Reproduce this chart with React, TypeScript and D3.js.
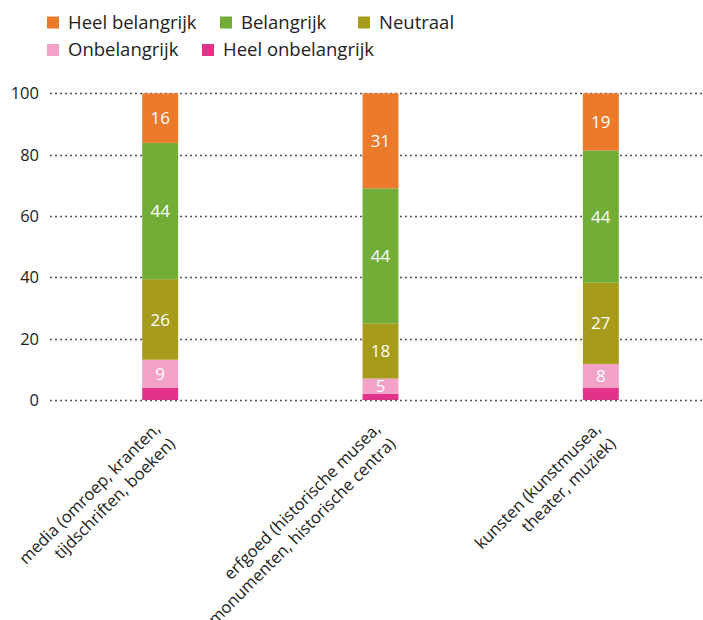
import React from 'react';
import * as d3 from 'd3';

// categories (two lines each, as in the source chart)
const categoryLines = [
  ['media (omroep, kranten,', 'tijdschriften, boeken)'],
  ['erfgoed (historische musea,', 'monumenten, historische centra)'],
  ['kunsten (kunstmusea,', 'theater, muziek)'],
];

// stacking order, bottom to top
const seriesNames = ['Heel onbelangrijk', 'Onbelangrijk', 'Neutraal', 'Belangrijk', 'Heel belangrijk'];
const heelOnbelangrijk = [4, 2, 4];
const onbelangrijk = [9, 5, 8];
const neutraal = [26, 18, 27];
const belangrijk = [44, 44, 44];
const heelBelangrijk = [16, 31, 19];

const seriesColors = ['#e3328a', '#f2a1c7', '#a79b1b', '#71ad37', '#eb7a2b'];
const legendOrder = ['Heel belangrijk', 'Belangrijk', 'Neutraal', 'Onbelangrijk', 'Heel onbelangrijk'];
const yTicks = [0, 20, 40, 60, 80, 100];

const W = 703;
const H = 620;
const FONT = '"Open Sans", "Noto Sans", sans-serif';

const margin = { top: 93.3, left: 50, bottom: 400 };
// legend slots (layout only)
const legendSlots = [
  [47, 0],
  [220, 0],
  [358, 0],
  [47, 1],
  [202, 1],
];

export default function App() {
  const columns = [heelOnbelangrijk, onbelangrijk, neutraal, belangrijk, heelBelangrijk];
  const table = categoryLines.map((_, i) => {
    const row: Record<string, number> = { idx: i };
    seriesNames.forEach((s, k) => (row[s] = columns[k][i]));
    return row;
  });

  // percent stacking: each bar fills 0..100
  const stacked = d3
    .stack<Record<string, number>>()
    .keys(seriesNames)
    .offset(d3.stackOffsetExpand)(table);

  const x = d3
    .scaleBand<number>()
    .domain(d3.range(categoryLines.length))
    .range([margin.left, 711])
    .paddingInner(0.837)
    .paddingOuter(0.837 / 2);

  const y = d3.scaleLinear().domain([0, 100]).range([margin.bottom, margin.top]);
  const color = d3.scaleOrdinal<string, string>().domain(seriesNames).range(seriesColors);

  const grid = (t: number, key: string) => (
    <line
      key={key}
      x1={margin.left}
      x2={W}
      y1={Math.round(y(t)) + 0.5}
      y2={Math.round(y(t)) + 0.5}
      stroke="#555"
      strokeWidth={1.3}
      strokeDasharray="2,3"
    />
  );

  return (
    <div style={{ position: 'absolute', left: 0, top: 0 }}>
      <svg width={W} height={H} style={{ display: 'block', fontFamily: FONT }}>
        <rect width={W} height={H} fill="#fff" />

        {/* legend */}
        {legendOrder.map((name, i) => {
          const [lx, row] = legendSlots[i];
          const ly = 16.5 + row * 27.5;
          return (
            <g key={name}>
              <rect x={lx} y={ly} width={12} height={12} fill={color(name)} />
              <text x={lx + 21} y={ly + 12} fontSize={18.5} fill="#222">
                {name}
              </text>
            </g>
          );
        })}

        {/* grid + y ticks */}
        {yTicks.filter((t) => t !== 0).map((t) => grid(t, 'g' + t))}
        {yTicks.map((t) => (
          <text
            key={'t' + t}
            x={39}
            y={y(t) + 6}
            textAnchor="end"
            fontSize={16.5}
            fill="#222"
          >
            {t}
          </text>
        ))}

        {/* bars */}
        {stacked.map((layer) => (
          <g key={layer.key} fill={color(layer.key)}>
            {layer.map((d, i) => (
              <rect
                key={i}
                x={x(i)}
                width={x.bandwidth()}
                y={y(d[1] * 100)}
                height={y(d[0] * 100) - y(d[1] * 100)}
              />
            ))}
          </g>
        ))}
        {stacked.map((layer) =>
          layer.map((d, i) => {
            const v = d.data[layer.key];
            if (v < 5) return null;
            return (
              <text
                key={layer.key + i}
                x={(x(i) as number) + x.bandwidth() / 2}
                y={y(((d[0] + d[1]) / 2) * 100)}
                dy="0.36em"
                textAnchor="middle"
                fontSize={17}
                fill="#fff"
              >
                {v}
              </text>
            );
          })
        )}

        {grid(0, 'g0')}

        {/* category labels */}
        {categoryLines.map((lines, i) => {
          const cx = (x(i) as number) + x.bandwidth() / 2;
          return (
            <text
              key={'c' + i}
              transform={`translate(${cx + 1},${430}) rotate(-45)`}
              textAnchor="end"
              fontSize={16.5}
              fill="#222"
            >
              {lines.map((l, k) => (
                <tspan key={k} x={0} dy={k === 0 ? 0 : 21}>
                  {l}
                </tspan>
              ))}
            </text>
          );
        })}
      </svg>
    </div>
  );
}
